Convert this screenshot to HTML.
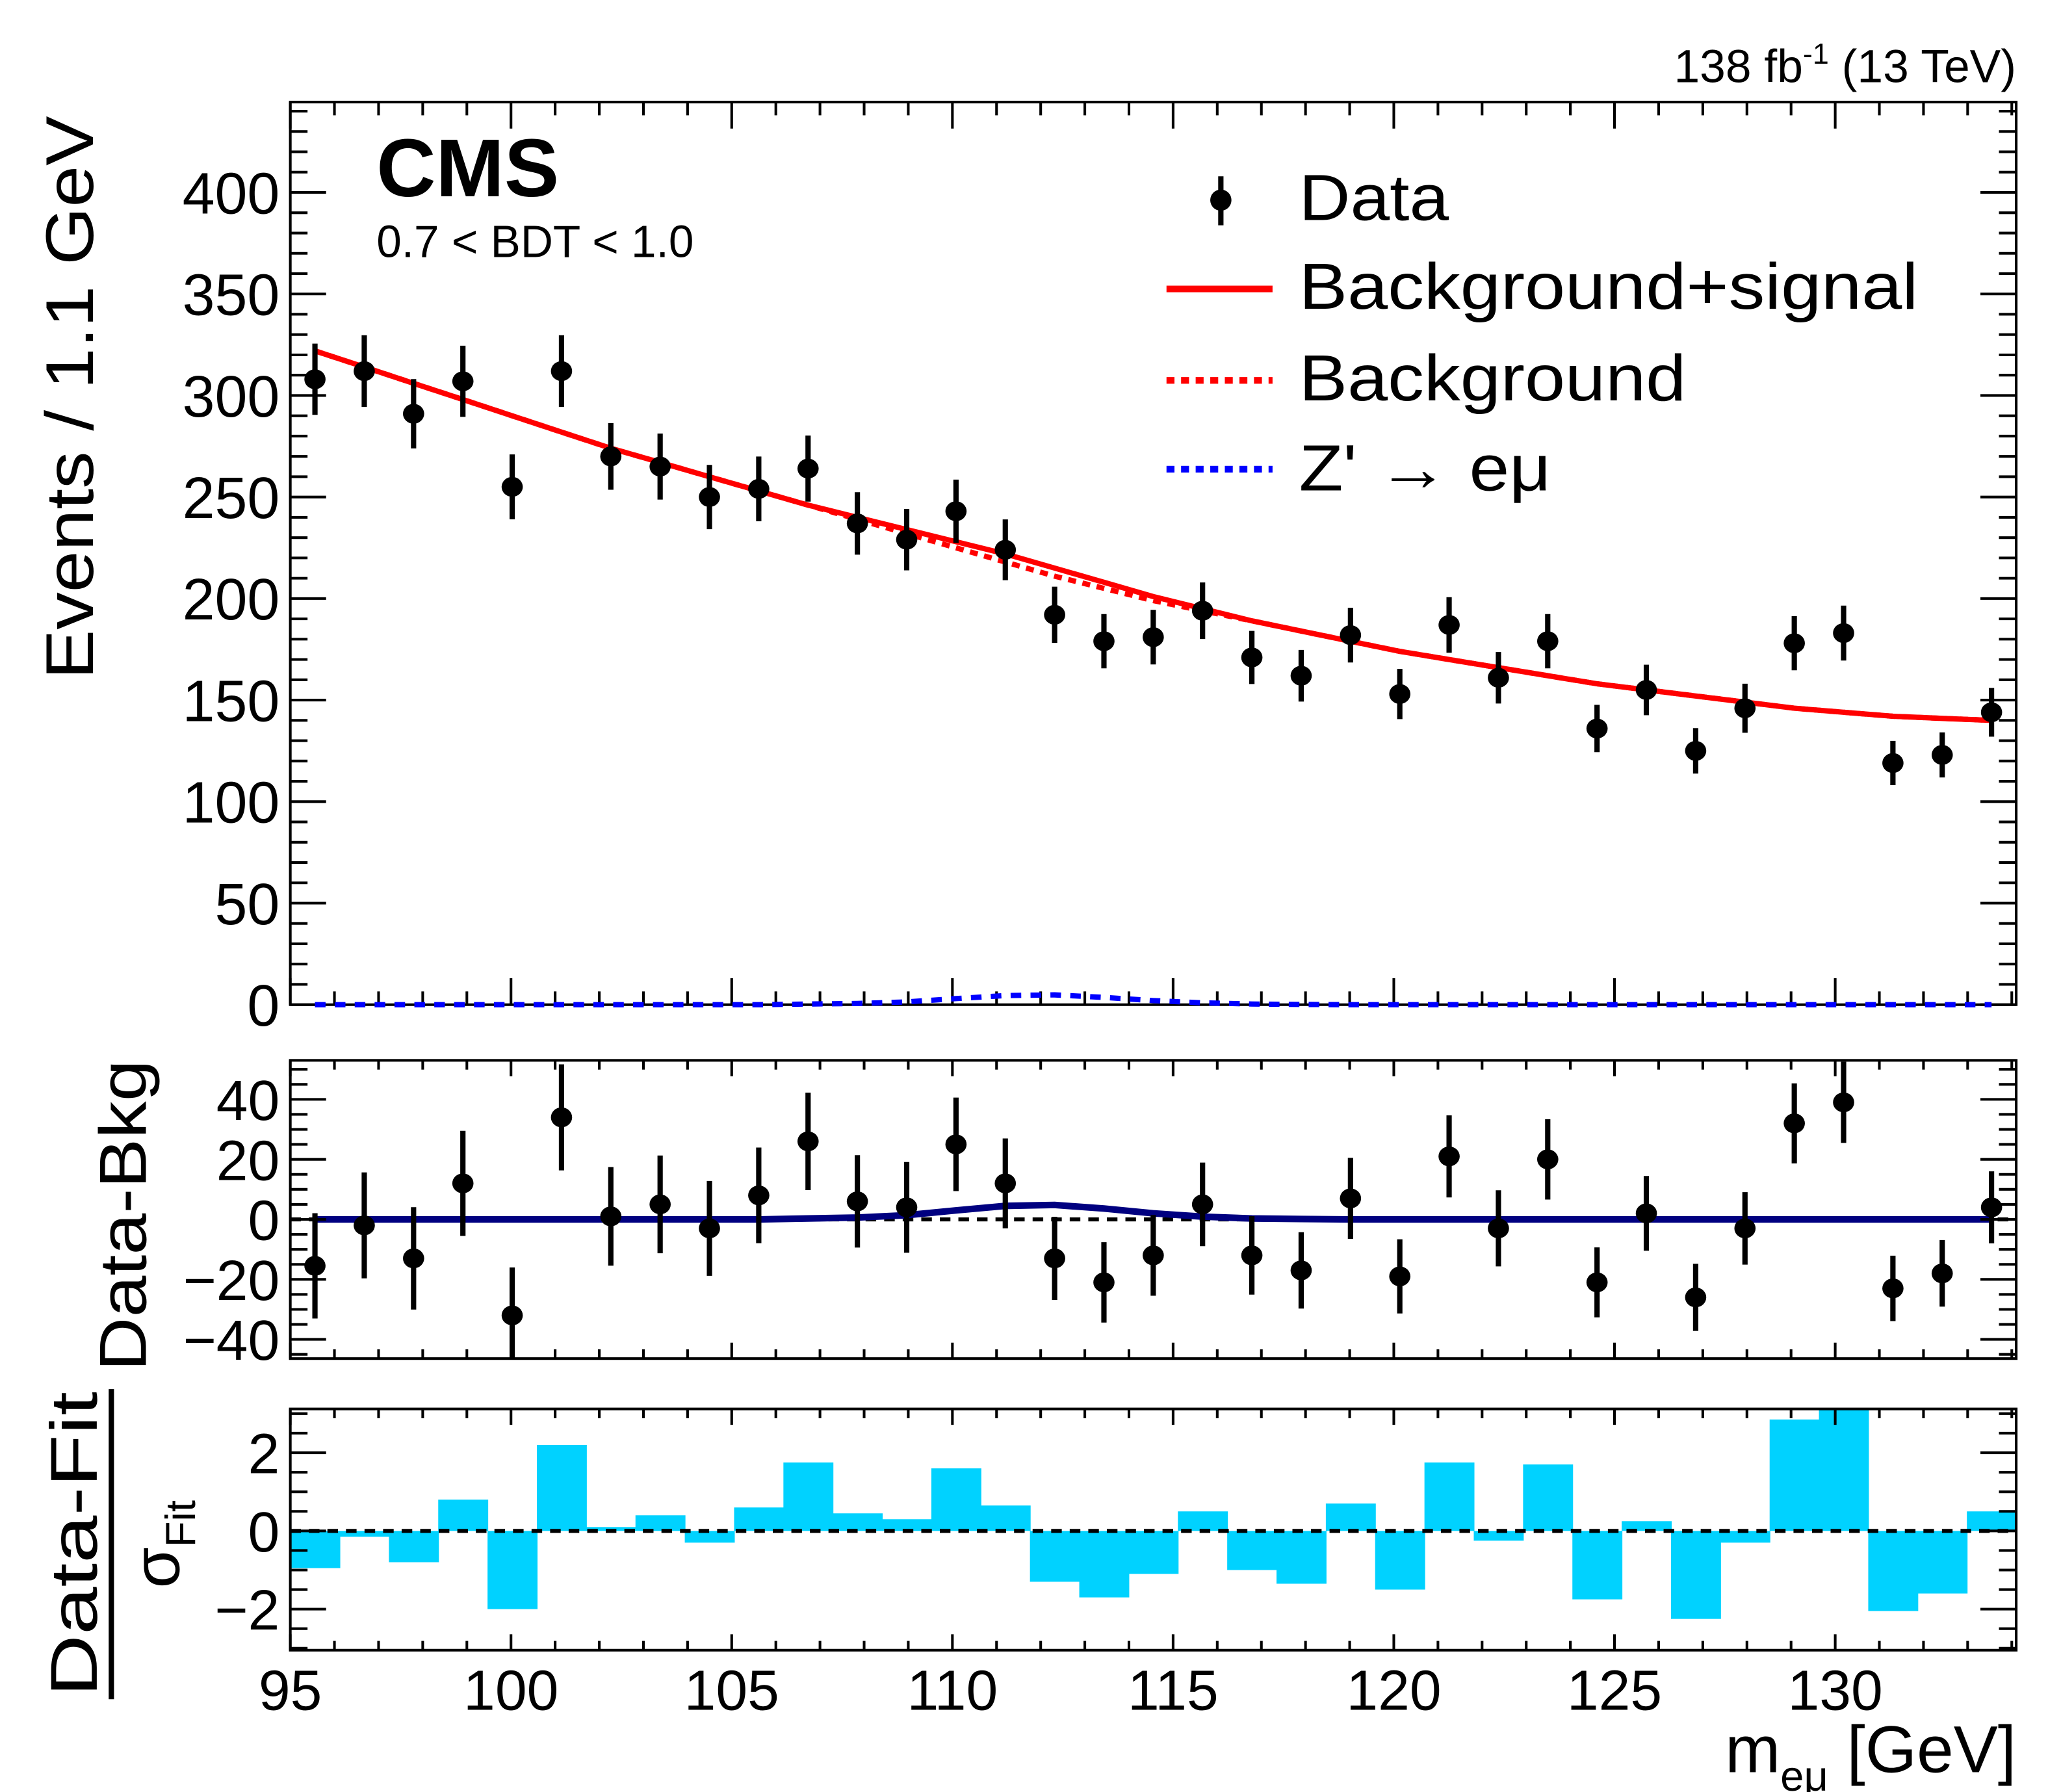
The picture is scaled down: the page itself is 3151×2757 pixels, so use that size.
<!DOCTYPE html>
<html><head><meta charset="utf-8"><style>
html,body{margin:0;padding:0;background:#fff;}
svg{display:block;font-family:"Liberation Sans",sans-serif;}
</style></head><body>
<svg id="chart" width="3151" height="2757" viewBox="0 0 1545 1352" preserveAspectRatio="none" xmlns="http://www.w3.org/2000/svg">
<g id="g"></g>
</svg>
<script>
const data = [308,312,291,307,255,312,270,265,250,254,264,237,229,243,224,192,179,181,194,171,162,182,153,187,161,179,136,155,125,146,178,183,119,123,144];
const sigPlusBkg = [322,314,306,298,290,282,274,267,260,253,246,240,234,228,222,215,208,201,195,189,184,179,174,170,166,162,158,155,152,149,146,144,142,141,140];
const bkgOnly = [322,314,306,298,290,282,274,267,260,253,246,239,232,225,218,211,205,199,194,189,184,179,174,170,166,162,158,155,152,149,146,144,142,141,140];
const signal = [0,0,0,0,0,0,0,0,0,0,0.3,0.6,1.4,3.0,4.5,4.8,3.6,2.0,0.9,0.3,0.1,0,0,0,0,0,0,0,0,0,0,0,0,0,0];
const dataMinusBkg = [-15.5,-2,-13,12,-32,34,1,5,-3,8,26,6,4,25,12,-13,-21,-12,5,-12,-17,7,-19,21,-3,20,-21,2,-26,-3,32,39,-23,-18,4];
const pulls = [-0.95,-0.15,-0.8,0.8,-2.0,2.2,0.1,0.4,-0.3,0.6,1.75,0.45,0.3,1.6,0.65,-1.3,-1.7,-1.1,0.5,-1.0,-1.35,0.7,-1.5,1.75,-0.25,1.7,-1.75,0.25,-2.25,-0.3,2.85,3.1,-2.05,-1.6,0.5];
const yTicksMain = [0,50,100,150,200,250,300,350,400];
const yTicksMid = [-40,-20,0,20,40];
const yTicksBot = [-2,0,2];
const xTicks = [95,100,105,110,115,120,125,130];

const NS="http://www.w3.org/2000/svg";
const g=document.getElementById('g');
function el(tag,attrs,parent){const e=document.createElementNS(NS,tag);for(const k in attrs)e.setAttribute(k,attrs[k]);(parent||g).appendChild(e);return e;}
const XL=219,XR=1521,XMIN=95,XMAX=134.1,NB=35,BW=(XMAX-XMIN)/NB;
const X=v=>XL+(v-XMIN)/(XMAX-XMIN)*(XR-XL);
const ctr=i=>XMIN+(i+0.5)*BW;
function lin(d0,d1,p0,p1){return v=>p0+(v-d0)/(d1-d0)*(p1-p0);}
const panels={
 main:{top:77,bot:758,y:lin(0,444.5,758,77),min:0,max:444.5,maj:50,min_:10,tl:27,ts:13,xl:20,xs:10},
 mid:{top:800,bot:1025,y:lin(-46.4,53,1025,800),min:-46.4,max:53,maj:20,min_:5,tl:27,ts:13,xl:12,xs:7},
 bot:{top:1063,bot:1245,y:lin(-3.05,3.12,1245,1063),min:-3.05,max:3.12,maj:2,min_:0.5,tl:27,ts:13,xl:12,xs:7}
};
function frame(p,name){
 const r=el('rect',{x:XL,y:p.top,width:XR-XL,height:p.bot-p.top,fill:'none',stroke:'#000','stroke-width':2});
 
 
 for(let v=Math.ceil(p.min/p.min_)*p.min_;v<=p.max+1e-9;v+=p.min_){
  const y=p.y(v);const major=Math.abs(v/p.maj-Math.round(v/p.maj))<1e-6;const L=major?p.tl:p.ts;
  el('line',{x1:XL,x2:XL+L,y1:y,y2:y,stroke:'#000','stroke-width':2});
  el('line',{x1:XR,x2:XR-L,y1:y,y2:y,stroke:'#000','stroke-width':2});
 }
 for(let v=95;v<=XMAX;v+=1){
  const x=X(v);const major=v%5===0;const L=major?p.xl:p.xs;
  el('line',{x1:x,x2:x,y1:p.bot,y2:p.bot-L,stroke:'#000','stroke-width':2});
  el('line',{x1:x,x2:x,y1:p.top,y2:p.top+L,stroke:'#000','stroke-width':2});
 }
}
function ylabels(p,ticks,name,size){
 ticks.forEach(v=>{const t=el('text',{x:XL-8,y:p.y(v)+size*0.36,'text-anchor':'end','font-size':size});
  t.textContent=(v<0?'\u2212'+(-v):String(v));
  
  });
}
const P=panels.main;
frame(P,'main-panel');
ylabels(P,yTicksMain,'y-axis-main',44);
function path(arr,yf,attrs,name){
 let d='';arr.forEach((v,i)=>{d+=(i?'L':'M')+X(ctr(i)).toFixed(1)+','+yf(v).toFixed(1);});
 const p=el('path',Object.assign({d:d,fill:'none'},attrs));
 
 
 return p;
}
path(bkgOnly,P.y,{stroke:'#ff0000','stroke-width':4,'stroke-dasharray':'6,5'},'background-curve');
path(sigPlusBkg,P.y,{stroke:'#ff0000','stroke-width':4},'signal-plus-background-curve');
path(signal,P.y,{stroke:'#0000ff','stroke-width':4,'stroke-dasharray':'8,7'},'signal-curve');
data.forEach((v,i)=>{
 const x=X(ctr(i)),e=Math.sqrt(v);
 const l=el('line',{x1:x,x2:x,y1:P.y(v+e),y2:P.y(v-e),stroke:'#000','stroke-width':4});
 
 
 const c=el('ellipse',{cx:x,cy:P.y(v),rx:8,ry:7.5,fill:'#000'});
 
 
});
const M=panels.mid;
el('line',{x1:XL,x2:XR,y1:M.y(0),y2:M.y(0),stroke:'#000','stroke-width':3,'stroke-dasharray':'8,6'});
path(signal,M.y,{stroke:'#000080','stroke-width':5},'signal-residual-curve');
dataMinusBkg.forEach((v,i)=>{
 const x=X(ctr(i)),e=Math.sqrt(data[i]);
 const y1=Math.max(M.y(v+e),M.top),y2=Math.min(M.y(v-e),M.bot);
 const l=el('line',{x1:x,x2:x,y1:y1,y2:y2,stroke:'#000','stroke-width':4});
 
 
 const c=el('ellipse',{cx:x,cy:M.y(v),rx:8,ry:7.5,fill:'#000'});
 
 
});
frame(M,'residual-panel');
ylabels(M,yTicksMid,'y-axis-residual',43);
const B=panels.bot;
pulls.forEach((v,i)=>{
 const x0=X(XMIN+i*BW),x1=X(XMIN+(i+1)*BW);
 const y0=B.y(Math.max(v,0)),y1=B.y(Math.min(v,0));
 const r=el('rect',{x:x0,y:y0,width:x1-x0+0.5,height:Math.max(y1-y0,1),fill:'#00d2ff'});
 
 
});
el('line',{x1:XL,x2:XR,y1:B.y(0),y2:B.y(0),stroke:'#000','stroke-width':3,'stroke-dasharray':'8,6'});
frame(B,'pull-panel');
ylabels(B,yTicksBot,'y-axis-pull',43);
xTicks.forEach(v=>{const t=el('text',{x:X(v),y:1290,'text-anchor':'middle','font-size':43});t.textContent=String(v);
 
 });
</script>
<svg style="position:absolute;left:0;top:0" width="3151" height="2757" viewBox="0 0 1545 1352" preserveAspectRatio="none" xmlns="http://www.w3.org/2000/svg" font-family="Liberation Sans, sans-serif">
<text x="1521" y="62" text-anchor="end" font-size="35">138 fb<tspan font-size="22" dy="-14">-1</tspan><tspan dy="14"> (13 TeV)</tspan></text>
<text x="284" y="148" font-size="62" font-weight="bold">CMS</text>
<text x="284" y="194" font-size="34">0.7 &lt; BDT &lt; 1.0</text>
<g>
<line x1="921" x2="921" y1="133" y2="170" stroke="#000" stroke-width="4"/><ellipse cx="921" cy="151" rx="8" ry="8"/>
<text x="980" y="166" font-size="49" textLength="113" lengthAdjust="spacingAndGlyphs">Data</text>
<line x1="880" x2="960" y1="218" y2="218" stroke="#ff0000" stroke-width="5"/>
<text x="980" y="233" font-size="49" textLength="467" lengthAdjust="spacingAndGlyphs">Background+signal</text>
<line x1="880" x2="960" y1="287" y2="287" stroke="#ff0000" stroke-width="5" stroke-dasharray="6,5"/>
<text x="980" y="302" font-size="49" textLength="292" lengthAdjust="spacingAndGlyphs">Background</text>
<line x1="880" x2="960" y1="354" y2="354" stroke="#0000ff" stroke-width="5" stroke-dasharray="6,5"/>
<text x="980" y="370" font-size="49" textLength="190" lengthAdjust="spacingAndGlyphs">Z' → eμ</text>
</g>
<text transform="translate(70,300) rotate(-90)" text-anchor="middle" font-size="51" textLength="425" lengthAdjust="spacingAndGlyphs">Events / 1.1 GeV</text>
<text transform="translate(110,917) rotate(-90)" text-anchor="middle" font-size="50" textLength="235" lengthAdjust="spacingAndGlyphs">Data-Bkg</text>
<g>
<text transform="translate(73,1165) rotate(-90)" text-anchor="middle" font-size="50" textLength="230" lengthAdjust="spacingAndGlyphs">Data-Fit</text>
<line x1="84" x2="84" y1="1048" y2="1282" stroke="#000" stroke-width="4"/>
<text transform="translate(135,1165) rotate(-90)" text-anchor="middle" font-size="50">σ<tspan font-size="32" dy="12">Fit</tspan></text>
</g>
<text x="1521" y="1337" text-anchor="end" font-size="50">m<tspan font-size="32" dy="14">eμ</tspan><tspan dy="-14"> [GeV]</tspan></text>
</svg>
</body></html>
